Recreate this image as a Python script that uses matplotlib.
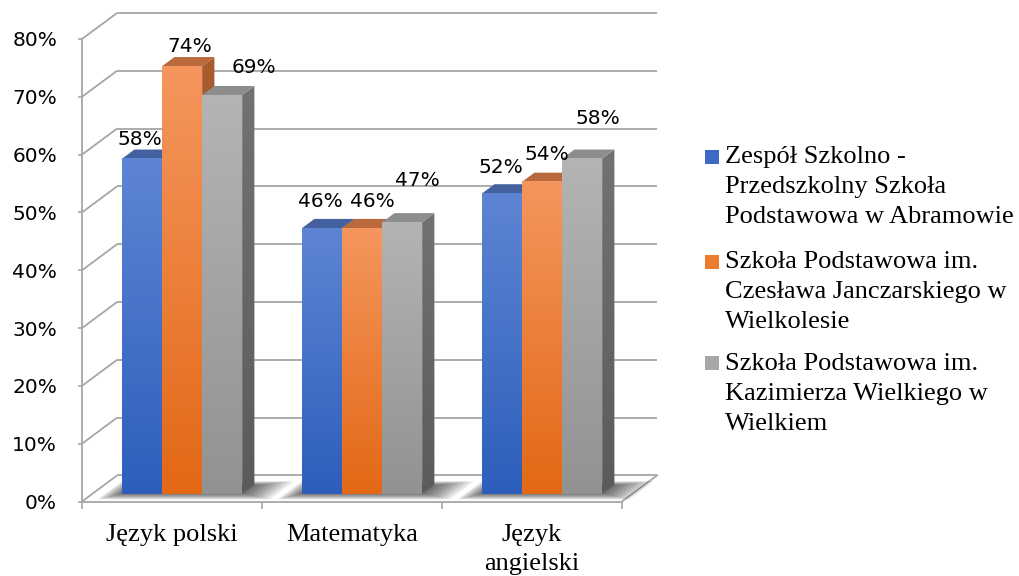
import numpy as np
import matplotlib
matplotlib.use("Agg")
import matplotlib.pyplot as plt
from matplotlib.patches import Polygon, Rectangle
from matplotlib.colors import to_rgb

# ---------------- data ----------------
categories = ["Język polski", "Matematyka", "Język\nangielski"]
series_names = [
    "Zespół Szkolno -\nPrzedszkolny Szkoła\nPodstawowa w Abramowie",
    "Szkoła Podstawowa im.\nCzesława Janczarskiego w\nWielkolesie",
    "Szkoła Podstawowa im.\nKazimierza Wielkiego w\nWielkiem",
]
abramow = [58, 46, 52]
wielkolas = [74, 46, 54]
wielkie = [69, 47, 58]
y_ticks = [0, 10, 20, 30, 40, 50, 60, 70, 80]
y_tick_labels = [f"{v}%" for v in y_ticks]

series_values = [abramow, wielkolas, wielkie]

# ---------------- style / layout ----------------
W, H = 1020, 576
styles = [
    dict(top="#5e85d3", bot="#2d5ebc", cap="#44619f", side=("#3a5a9a", "#2b4a86"), legend="#3d69c4"),
    dict(top="#f5965e", bot="#e26815", cap="#b9693c", side=("#a85c30", "#96501f"), legend="#ee7a2e"),
    dict(top="#b4b4b4", bot="#929292", cap="#8d8d8d", side=("#727272", "#5b5b5b"), legend="#a8a8a8"),
]
grid_color = "#a6a6a6"
DX, DY = 35 / 180, 26 / 5.78      # floor depth vector in data units
F0, FD = 0.29, 0.35               # bar front depth fraction, bar depth fraction
BAR_W = 0.2222
# label nudges in pixels relative to top-centre of front face (layout only)
label_nudge = [
    [(-2, 19), (-2, 26.5), (-1, 26)],
    [(8, 19.5), (10, 26.5), (5, 27.5)],
    [(32, 28), (15, 42), (15.5, 40.5)],
]

sans = ["DejaVu Sans"]
serif = ["Liberation Serif", "DejaVu Serif"]

fig = plt.figure(figsize=(W / 100, H / 100), dpi=100)
ax = fig.add_axes([82 / W, (H - 501.5) / H, 540 / W, 462.5 / H])
ax.set_xlim(0, 3)
ax.set_ylim(0, 80)
ax.set_facecolor("none")


def P(x, y, d):
    return (x + d * DX, y + d * DY)


# ---------- walls / grid ----------
for v in y_ticks:
    ax.plot([P(0, v, 0)[0], P(0, v, 1)[0]], [P(0, v, 0)[1], P(0, v, 1)[1]],
            color=grid_color, lw=1.3, clip_on=False, zorder=1, solid_capstyle="butt")
    ax.plot([P(0, v, 1)[0], P(3, v, 1)[0]], [P(0, v, 1)[1], P(3, v, 1)[1]],
            color=grid_color, lw=1.3, clip_on=False, zorder=1, solid_capstyle="butt")
ax.plot([P(3, 0, 0)[0], P(3, 0, 1)[0]], [P(3, 0, 0)[1], P(3, 0, 1)[1]],
        color=grid_color, lw=1.3, clip_on=False, zorder=1)


def grad_img(c_top, c_bot, n=200):
    t = np.linspace(0, 1, n).reshape(-1, 1, 1)
    a = np.array(to_rgb(c_top)).reshape(1, 1, 3)
    b = np.array(to_rgb(c_bot)).reshape(1, 1, 3)
    return a * (1 - t) + b * t


def grad_poly(pts, c_top, c_bot, z):
    xs = [p[0] for p in pts]
    ys = [p[1] for p in pts]
    poly = Polygon(pts, closed=True, facecolor="none", edgecolor="none",
                   transform=ax.transData)
    ax.add_patch(poly)
    im = ax.imshow(grad_img(c_top, c_bot), extent=[min(xs), max(xs), min(ys), max(ys)],
                   aspect="auto", zorder=z, interpolation="bilinear")
    im.set_clip_path(poly)


n_series = len(series_values)
z = 5
for g in range(len(categories)):
    gl = g + 0.5 - n_series * BAR_W / 2
    gr = gl + n_series * BAR_W
    # soft shadow on the floor
    for k in range(8):
        e = 0.012 * (k + 1)
        pts = [P(gl - e, 0, F0 - 0.03 * k), P(gr + e * 2.0, 0, F0 - 0.03 * k),
               P(gr + e * 2.0, 0, F0 + FD + 0.02 * k), P(gl - e, 0, F0 + FD + 0.02 * k)]
        ax.add_patch(Polygon(pts, closed=True, facecolor="black", edgecolor="none",
                             alpha=0.09, zorder=3, clip_on=False))
    for s, vals in enumerate(series_values):
        v = vals[g]
        st = styles[s]
        xl = gl + s * BAR_W
        xr = xl + BAR_W
        side = [P(xr, 0, F0), P(xr, 0, F0 + FD), P(xr, v, F0 + FD), P(xr, v, F0)]
        grad_poly(side, st["side"][0], st["side"][1], z); z += 1
        top = [P(xl, v, F0), P(xr, v, F0), P(xr, v, F0 + FD), P(xl, v, F0 + FD)]
        ax.add_patch(Polygon(top, closed=True, facecolor=st["cap"], edgecolor="none",
                             zorder=z)); z += 1
        fx0, fy0 = P(xl, 0, F0)
        fx1, fy1 = P(xr, v, F0)
        ax.imshow(grad_img(st["top"], st["bot"]), extent=[fx0, fx1, fy0, fy1],
                  aspect="auto", zorder=z, interpolation="bilinear"); z += 1

# ---------- data labels ----------
for s, vals in enumerate(series_values):
    for g, v in enumerate(vals):
        gl = g + 0.5 - n_series * BAR_W / 2
        xc = gl + s * BAR_W + BAR_W / 2
        ax.annotate(f"{v}%", xy=P(xc, v, F0), xytext=label_nudge[s][g],
                    textcoords="offset pixels", ha="center", va="center",
                    fontsize=14.5, family=sans, color="black", zorder=100,
                    annotation_clip=False)

ax.set_xlim(0, 3)
ax.set_ylim(0, 80)

# ---------- axes ----------
for sp in ["top", "right"]:
    ax.spines[sp].set_visible(False)
for sp in ["left", "bottom"]:
    ax.spines[sp].set_color(grid_color)
    ax.spines[sp].set_linewidth(1.3)
    ax.spines[sp].set_zorder(2)

ax.set_yticks(y_ticks)
ax.set_yticklabels(y_tick_labels, fontsize=14.5, family=sans, va="center_baseline")
ax.tick_params(axis="y", length=3, width=1.2, color=grid_color, pad=15)

ax.set_xticks([0.5, 1.5, 2.5])
ax.set_xticklabels(categories, fontsize=19, family=serif, linespacing=1.42)
ax.set_xticks([0, 1, 2, 3], minor=True)
ax.tick_params(axis="x", which="major", length=0, pad=16)
ax.tick_params(axis="x", which="minor", length=5, width=1.2, color=grid_color)

# ---------- legend ----------
legend_centers = [187, 292, 394]
legend_first = [157, 262, 363]
for s in range(n_series):
    fig.text(725 / W, 1 - legend_centers[s] / H, series_names[s], fontsize=19,
             family=serif, ha="left", va="center", linespacing=1.45)
    fig.patches.append(Rectangle((705 / W, 1 - (legend_first[s] + 7) / H), 14 / W, 14 / H,
                                 transform=fig.transFigure, facecolor=styles[s]["legend"],
                                 edgecolor="none"))

fig.savefig("out.png", dpi=100)
